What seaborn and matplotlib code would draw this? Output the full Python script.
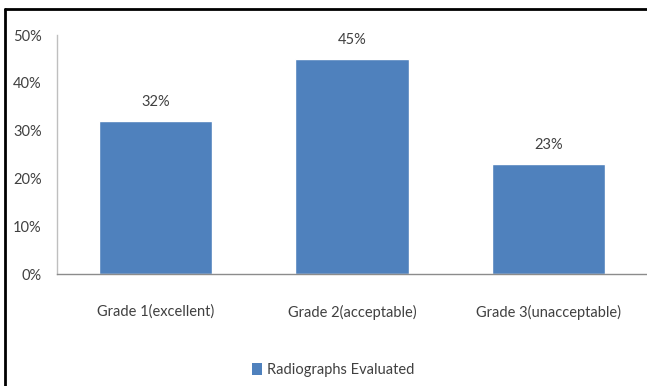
import matplotlib
matplotlib.use("Agg")
import matplotlib.pyplot as plt
import seaborn as sns
import pandas as pd
from matplotlib.lines import Line2D
from matplotlib.patches import Patch

categories = ["Grade 1(excellent)", "Grade 2(acceptable)", "Grade 3(unacceptable)"]
values = [32, 45, 23]
value_labels = ["32%", "45%", "23%"]
y_ticks = [0, 10, 20, 30, 40, 50]
y_tick_labels = ["0%", "10%", "20%", "30%", "40%", "50%"]
series_name = "Radiographs Evaluated"

sns.set_theme(style="white")
plt.rcParams['font.family'] = ['Lato', 'DejaVu Sans']

bar_color = "#4F81BD"
text_color = "#404040"
fs = 10.5

df = pd.DataFrame({"cat": categories, "val": values})

fig = plt.figure(figsize=(6.47, 3.86), dpi=100)
ax = fig.add_axes([0.088, 0.290, 0.912, 0.619])
sns.barplot(data=df, x="cat", y="val", color=bar_color, width=0.575,
            saturation=1, ax=ax)

ax.set_xlim(-0.5, 2.5)
ax.set_ylim(0, 50)
ax.set_yticks(y_ticks)
ax.set_yticklabels(y_tick_labels, fontsize=fs, color=text_color)
ax.set_xticks(range(len(categories)))
ax.set_xticklabels(categories, fontsize=fs, color=text_color)
ax.tick_params(axis="x", length=0, pad=22)
ax.tick_params(axis="y", length=0, pad=11)
ax.set_xlabel("")
ax.set_ylabel("")

for s in ["top", "right"]:
    ax.spines[s].set_visible(False)
ax.spines["left"].set_color("#BFBFBF")
ax.spines["left"].set_linewidth(1)
ax.spines["bottom"].set_color("#8C8C8C")
ax.spines["bottom"].set_linewidth(1)

for i, (v, lab) in enumerate(zip(values, value_labels)):
    ax.annotate(lab, (i, v), xytext=(0, 9), textcoords="offset points",
                ha="center", va="bottom", fontsize=fs, color=text_color)

handle = Patch(facecolor=bar_color, edgecolor="none")
fig.legend([handle], [series_name], loc="center", bbox_to_anchor=(0.515, 0.042),
           frameon=False, fontsize=fs, handlelength=0.7, handleheight=0.9,
           handletextpad=0.3, labelcolor=text_color)

# outer frame lines (top and left)
fig.add_artist(Line2D([0.008, 1.0], [0.976, 0.976], transform=fig.transFigure,
                      color="black", linewidth=2))
fig.add_artist(Line2D([0.008, 0.008], [0.0, 0.976], transform=fig.transFigure,
                      color="black", linewidth=2))

fig.savefig("out.png", dpi=100, facecolor="white")
